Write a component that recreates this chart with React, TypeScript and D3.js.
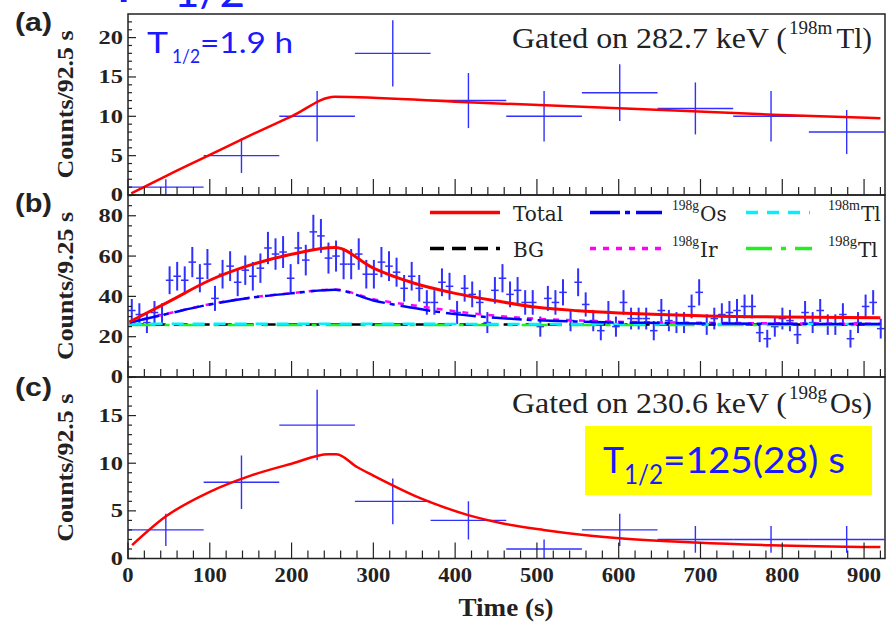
import React from "react";
import * as d3 from "d3";

const WIDTH = 894;
const HEIGHT = 624;

// panel (a): gated on 282.7 keV, 92.5 s bins
const binsA = [46.25, 138.75, 231.25, 323.75, 416.25, 508.75, 601.25, 693.75, 786.25, 878.75];
const countsA = [1, 5, 10, 18, 12, 10, 13, 11, 10, 8];
const errA = [1.0, 2.2, 3.2, 4.2, 3.5, 3.2, 3.6, 3.3, 3.2, 2.8];
const fitTimesA = [4, 50, 100, 150, 200, 253, 400, 585, 789, 920];
const fitA = [0.2, 2.6, 5.1, 7.6, 10.0, 12.5, 11.85, 11.1, 10.2, 9.75];

// panel (b): 9.25 s bins
const binWidthB = 9.25;
const countsB = [
  33, 31, 27, 32, 31, 48, 50, 48, 57, 49, 56, 39, 51, 55, 47, 53, 50, 54, 64, 61,
  62, 49, 64, 58, 72, 70, 59, 60, 56, 56, 61, 51, 51, 57, 55, 52, 44, 50, 44, 37,
  37, 47, 45, 32, 44, 41, 37, 27, 43, 49, 41, 43, 37, 37, 25, 39, 37, 42, 28, 47,
  36, 28, 23, 32, 25, 37, 29, 29, 29, 23, 33, 28, 27, 27, 35, 42, 26, 29, 31, 32,
  33, 35, 35, 22, 19, 25, 29, 28, 21, 32, 27, 33, 26, 26, 31, 19, 27, 35, 37, 24,
];
const errB = [
  5.7, 5.6, 5.2, 5.7, 5.6, 6.9, 7.1, 6.9, 7.5, 7.0, 7.5, 6.2, 7.1, 7.4, 6.9, 7.3, 7.1, 7.3, 8.0, 7.8,
  7.9, 7.0, 8.0, 7.6, 8.5, 8.4, 7.7, 7.7, 7.5, 7.5, 7.8, 7.1, 7.1, 7.5, 7.4, 7.2, 6.6, 7.1, 6.6, 6.1,
  6.1, 6.9, 6.7, 5.7, 6.6, 6.4, 6.1, 5.2, 6.6, 7.0, 6.4, 6.6, 6.1, 6.1, 5.0, 6.2, 6.1, 6.5, 5.3, 6.9,
  6.0, 5.3, 4.8, 5.7, 5.0, 6.1, 5.4, 5.4, 5.4, 4.8, 5.7, 5.3, 5.2, 5.2, 5.9, 6.5, 5.1, 5.4, 5.6, 5.7,
  5.7, 5.9, 5.9, 4.7, 4.4, 5.0, 5.4, 5.3, 4.6, 5.7, 5.2, 5.7, 5.1, 5.1, 5.6, 4.4, 5.2, 5.9, 6.1, 4.9,
];
const fitTimesB = [2, 50, 100, 150, 200, 253, 300, 350, 400, 450, 500, 550, 600, 650, 700, 800, 920];
const totalB = [27.4, 37.4, 48.0, 55.6, 60.9, 64.2, 54.0, 46.5, 41.5, 37.8, 34.6, 32.9, 31.8, 31.0, 30.4, 29.8, 29.4];
const osB = [27.0, 31.5, 36.0, 39.3, 41.5, 43.3, 38.0, 34.2, 31.2, 29.4, 28.2, 27.5, 27.0, 26.8, 26.6, 26.4, 26.3];
const irB = [27.0, 31.6, 36.1, 39.4, 41.6, 43.4, 38.6, 35.5, 32.6, 30.4, 28.9, 28.0, 27.4, 27.1, 26.9, 26.6, 26.4];
const flatTimesB = [2, 920];
const bgB = [26.0, 26.0];
const tlmB = [26.4, 26.3];
const tlgB = [25.8, 25.8];

// panel (c): gated on 230.6 keV, 92.5 s bins
const binsC = [46.25, 138.75, 231.25, 323.75, 416.25, 508.75, 601.25, 693.75, 786.25, 878.75];
const countsC = [3, 8, 14, 6, 4, 1, 3, 2, 2, 2];
const errC = [1.7, 2.8, 3.7, 2.4, 2.0, 1.0, 1.7, 1.4, 1.4, 1.4];
const fitTimesC = [5, 46, 100, 150, 200, 245, 255, 280, 300, 323, 350, 381, 416, 460, 508, 560, 601, 694, 786, 920];
const fitC = [1.4, 4.4, 7.0, 8.7, 9.95, 10.95, 10.95, 9.6, 8.7, 7.7, 6.6, 5.55, 4.55, 3.65, 3.0, 2.45, 2.13, 1.68, 1.4, 1.2];

const xTicks = [0, 100, 200, 300, 400, 500, 600, 700, 800, 900];

const SERIF = "'Liberation Serif', 'Times New Roman', serif";
const WIDE_SERIF = "'DejaVu Serif', serif";
const SANS = "'Liberation Sans', Arial, sans-serif";
const BLUE_SANS = "Lato, 'Open Sans', sans-serif";
const DATA_BLUE = "#3030ff";

const x = d3.scaleLinear().domain([0, 925.6]).range([128, 885]);

const panels = [
  {id: "a", top: 14, bottom: 195, max: 23, major: [0, 5, 10, 15, 20], minorStep: 1, ylabel: "Counts/92.5 s"},
  {id: "b", top: 195, bottom: 377, max: 90.3, major: [0, 20, 40, 60, 80], minorStep: 5, ylabel: "Counts/9.25 s"},
  {id: "c", top: 377, bottom: 558.5, max: 19.05, major: [0, 5, 10, 15], minorStep: 1, ylabel: "Counts/92.5 s"},
];

function yScaleOf(p) {
  return d3.scaleLinear().domain([0, p.max]).range([p.bottom, p.top]);
}

function Frame({p}) {
  const y = yScaleOf(p);
  const minorY = d3.range(0, p.max, p.minorStep);
  const minorX = d3.range(0, 925, 20);
  return (
    <g>
      {minorX.map(t => {
        const major = t % 100 === 0;
        return <line key={"x" + t} x1={x(t)} x2={x(t)} y1={p.bottom} y2={p.bottom - (major ? 16 : 8)}
                     stroke="#222" strokeWidth={1.2}/>;
      })}
      {minorY.map(v => {
        const major = p.major.includes(v);
        return <line key={"y" + v} x1={128} x2={128 + (major ? 8 : 4)} y1={y(v)} y2={y(v)}
                     stroke="#222" strokeWidth={1.2}/>;
      })}
      {p.major.map(v => (
        <text key={"l" + v} x={123} y={y(v)} dy="0.34em" textAnchor="end" fontFamily={SERIF}
              fontWeight="bold" fontSize={19} textLength={String(v).length * 12.2}
              lengthAdjust="spacingAndGlyphs" fill="#222">{v}</text>
      ))}
      <text transform={`translate(73,${(p.top + p.bottom) / 2}) rotate(-90)`} textAnchor="middle"
            fontFamily={SERIF} fontWeight="bold" fontSize={23} textLength={148}
            lengthAdjust="spacingAndGlyphs" fill="#222">{p.ylabel}</text>
      <rect x={128} y={p.top} width={885 - 128} height={p.bottom - p.top} fill="none"
            stroke="#222" strokeWidth={1.5}/>
    </g>
  );
}

function Crosses({times, values, errs, half, y, color, width, vWidth}) {
  return (
    <g stroke={color}>
      {times.map((t, i) => (
        <g key={i}>
          <line x1={x(t - half)} x2={x(t + half)} y1={y(values[i])} y2={y(values[i])} strokeWidth={width}/>
          <line x1={x(t)} x2={x(t)} y1={y(Math.max(0, values[i] - errs[i]))} y2={y(values[i] + errs[i])}
                strokeWidth={vWidth}/>
        </g>
      ))}
    </g>
  );
}

function Fit({times, values, y, color, width, dash}) {
  const line = d3.line().x(d => x(d[0])).y(d => y(d[1])).curve(d3.curveMonotoneX);
  const pts = times.map((t, i) => [t, values[i]]);
  return <path d={line(pts)} fill="none" stroke={color} strokeWidth={width} strokeDasharray={dash}/>;
}

const styles = {
  total: {color: "#ff0000", width: 3, dash: undefined},
  os: {color: "#0000ff", width: 2.5, dash: "30,5,5,6"},
  tlm: {color: "#00f0ff", width: 2.5, dash: "12,9"},
  bg: {color: "#000000", width: 2.5, dash: "14,8"},
  ir: {color: "#ff00ff", width: 2.5, dash: "6,7"},
  tlg: {color: "#22ee22", width: 2.5, dash: "26,9,5,9"},
};

function LegendItem({lx1, lx2, ly, st, tx, sup, main, supW}) {
  const mainX = sup ? tx + supW + 1 : tx;
  return (
    <g>
      <line x1={lx1} x2={lx2} y1={ly} y2={ly} stroke={st.color} strokeWidth={3.5} strokeDasharray={st.dash}/>
      {sup && (
        <text x={tx} y={ly - 3} fontFamily={SERIF} fontSize={14} textLength={supW}
              lengthAdjust="spacingAndGlyphs" fill="#222">{sup}</text>
      )}
      <text x={mainX} y={ly + 8} fontFamily={WIDE_SERIF} fontSize={20} fill="#222">{main}</text>
    </g>
  );
}

// "Gated on ... keV (^{sup}main)" heading, right side of a panel
function Gate({baseline, text, sup, main}) {
  return (
    <g fill="#222" fontFamily={SERIF}>
      <text x={512} y={baseline} fontSize={29} textLength={275} lengthAdjust="spacingAndGlyphs">{text}</text>
      <text x={789} y={baseline - 14} fontSize={19}>{sup}</text>
      <text x={872} y={baseline} fontSize={29} textAnchor="end">{main}</text>
    </g>
  );
}

export default function App() {
  const [pa, pb, pc] = panels;
  const ya = yScaleOf(pa);
  const yb = yScaleOf(pb);
  const yc = yScaleOf(pc);
  const timesB = countsB.map((_, k) => binWidthB * (k + 0.5));

  return (
    <svg width={WIDTH} height={HEIGHT} style={{position: "absolute", left: 0, top: 0, background: "#fff"}}>
      <defs>
        {panels.map(p => (
          <clipPath key={p.id} id={"clip-" + p.id}>
            <rect x={128} y={p.top} width={885 - 128} height={p.bottom - p.top}/>
          </clipPath>
        ))}
      </defs>
      <rect width={WIDTH} height={HEIGHT} fill="#fff"/>

      {/* heading cut off by the top edge */}
      <text x={106} y={2} fontFamily={BLUE_SANS} fontSize={60} fill="#1a1aff">T</text>
      <text x={174} y={7} fontFamily={BLUE_SANS} fontSize={44} fill="#1a1aff">1/2</text>

      {/* panel (a) */}
      <g clipPath="url(#clip-a)">
        <Crosses times={binsA} values={countsA} errs={errA} half={46.25} y={ya} color={DATA_BLUE}
                 width={1.4} vWidth={1.4}/>
        <Fit times={fitTimesA} values={fitA} y={ya} color="#ff0000" width={2.5}/>
      </g>
      <Frame p={pa}/>
      <text x={15} y={31} fontFamily={SANS} fontWeight="bold" fontSize={26} textLength={37}
            lengthAdjust="spacingAndGlyphs" fill="#222">(a)</text>
      <text x={147} y={53} fontFamily={BLUE_SANS} fontSize={29} fill="#1a1aff" textLength={21}
            lengthAdjust="spacingAndGlyphs">T</text>
      <text x={172} y={63} fontFamily={BLUE_SANS} fontSize={20} fill="#1a1aff" textLength={28}
            lengthAdjust="spacingAndGlyphs">1/2</text>
      <text x={200} y={53} fontFamily={BLUE_SANS} fontSize={29} fill="#1a1aff" textLength={93}
            lengthAdjust="spacingAndGlyphs">=1.9 h</text>
      <Gate baseline={48} text="Gated on 282.7 keV (" sup="198m" main="Tl)"/>

      {/* panel (b) */}
      <g clipPath="url(#clip-b)">
        <Crosses times={timesB} values={countsB} errs={errB} half={binWidthB / 2} y={yb} color={DATA_BLUE}
                 width={1.5} vWidth={2}/>
        <Fit times={flatTimesB} values={bgB} y={yb} {...styles.bg}/>
        <Fit times={flatTimesB} values={tlgB} y={yb} {...styles.tlg}/>
        <Fit times={flatTimesB} values={tlmB} y={yb} {...styles.tlm}/>
        <Fit times={fitTimesB} values={irB} y={yb} {...styles.ir}/>
        <Fit times={fitTimesB} values={osB} y={yb} {...styles.os}/>
        <Fit times={fitTimesB} values={totalB} y={yb} {...styles.total}/>
      </g>
      <Frame p={pb}/>
      <text x={15} y={212} fontFamily={SANS} fontWeight="bold" fontSize={26} textLength={37}
            lengthAdjust="spacingAndGlyphs" fill="#222">(b)</text>
      <LegendItem lx1={430} lx2={500} ly={212.5} st={styles.total} tx={513} main="Total"/>
      <LegendItem lx1={590} lx2={662} ly={212.5} st={styles.os} tx={672} sup="198g" supW={27} main="Os"/>
      <LegendItem lx1={746} lx2={810} ly={212.5} st={styles.tlm} tx={828} sup="198m" supW={32} main="Tl"/>
      <LegendItem lx1={430} lx2={500} ly={248.5} st={styles.bg} tx={513} main="BG"/>
      <LegendItem lx1={590} lx2={662} ly={248.5} st={styles.ir} tx={672} sup="198g" supW={27} main="Ir"/>
      <LegendItem lx1={746} lx2={812} ly={248.5} st={styles.tlg} tx={828} sup="198g" supW={29} main="Tl"/>

      {/* panel (c) */}
      <g clipPath="url(#clip-c)">
        <Crosses times={binsC} values={countsC} errs={errC} half={46.25} y={yc} color={DATA_BLUE}
                 width={1.4} vWidth={1.4}/>
        <Fit times={fitTimesC} values={fitC} y={yc} color="#ff0000" width={2.5}/>
      </g>
      <Frame p={pc}/>
      <text x={15} y={396} fontFamily={SANS} fontWeight="bold" fontSize={26} textLength={37}
            lengthAdjust="spacingAndGlyphs" fill="#222">(c)</text>
      <Gate baseline={413} text="Gated on 230.6 keV (" sup="198g" main="Os)"/>
      <rect x={585} y={426} width={287} height={69} fill="#ffff00"/>
      <text x={603} y={473} fontFamily={BLUE_SANS} fontSize={37} fill="#1a1aff" textLength={21}
            lengthAdjust="spacingAndGlyphs">T</text>
      <text x={624} y={484} fontFamily={BLUE_SANS} fontSize={26} fill="#1a1aff" textLength={39}
            lengthAdjust="spacingAndGlyphs">1/2</text>
      <text x={663} y={473} fontFamily={BLUE_SANS} fontSize={37} fill="#1a1aff" textLength={182}
            lengthAdjust="spacingAndGlyphs">=125(28) s</text>

      {/* x axis labels */}
      {xTicks.map(t => (
        <text key={t} x={x(t)} y={582} textAnchor="middle" fontFamily={SERIF} fontWeight="bold"
              fontSize={20} textLength={String(t).length * 11.3} lengthAdjust="spacingAndGlyphs"
              fill="#222">{t}</text>
      ))}
      <text x={506} y={616} textAnchor="middle" fontFamily={SERIF} fontWeight="bold" fontSize={26}
            textLength={95} lengthAdjust="spacingAndGlyphs" fill="#222">Time (s)</text>
    </svg>
  );
}
